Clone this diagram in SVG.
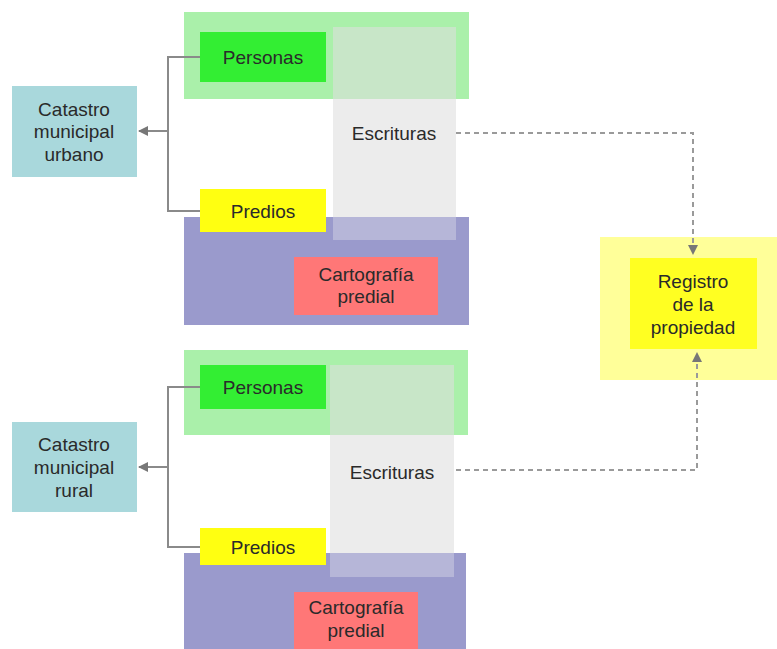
<svg xmlns="http://www.w3.org/2000/svg" width="777" height="649" viewBox="0 0 777 649">
<defs>
<style>
text{font-family:"Liberation Sans",Arial,sans-serif;font-size:19px;fill:#2a2a2a;text-anchor:middle}
.ln{fill:none;stroke:#8a8a8a;stroke-width:2}
.dl{fill:none;stroke:#9a9a9a;stroke-width:2;stroke-dasharray:5 4}
</style>
<marker id="ah" viewBox="0 0 10 10" refX="9" refY="5" markerWidth="5" markerHeight="5" orient="auto-start-reverse">
<path d="M0,0 L10,5 L0,10 z" fill="#777"/>
</marker>
</defs>
<rect width="777" height="649" fill="#fff"/>

<g id="bloque-urbano">
<rect x="184" y="12" width="285" height="87" fill="#aaf0aa"/>
<rect x="184" y="217" width="285" height="108" fill="#9a9acc"/>
<rect x="333" y="27" width="123" height="72" fill="#c8e6c8"/>
<rect x="333" y="99" width="123" height="118" fill="#ececec"/>
<rect x="333" y="217" width="123" height="23" fill="#b6b6d8"/>
</g>
<g id="personas-urbano"><rect x="200" y="32" width="126" height="50" fill="#33ee33"/><text x="263" y="64">Personas</text></g>
<g id="escrituras-urbano"><text x="394" y="140">Escrituras</text></g>
<g id="predios-urbano"><rect x="200" y="189" width="126" height="43" fill="#ffff11"/><text x="263" y="218">Predios</text></g>
<g id="cartografia-urbano"><rect x="294" y="257" width="144" height="58" fill="#ff7777"/><text x="366" y="281">Cartografía</text><text x="366" y="303">predial</text></g>
<g id="catastro-urbano"><rect x="12" y="86" width="125" height="91" fill="#a9d8dc"/><text x="74" y="116">Catastro</text><text x="74" y="138">municipal</text><text x="74" y="161">urbano</text></g>

<g id="bloque-rural">
<rect x="184" y="350" width="284" height="85" fill="#aaf0aa"/>
<rect x="184" y="553" width="282" height="96" fill="#9a9acc"/>
<rect x="330" y="365" width="124" height="70" fill="#c8e6c8"/>
<rect x="330" y="435" width="124" height="118" fill="#ececec"/>
<rect x="330" y="553" width="124" height="24" fill="#b6b6d8"/>
</g>
<g id="personas-rural"><rect x="200" y="365" width="126" height="44" fill="#33ee33"/><text x="263" y="394">Personas</text></g>
<g id="escrituras-rural"><text x="392" y="479">Escrituras</text></g>
<g id="predios-rural"><rect x="200" y="528" width="126" height="37" fill="#ffff11"/><text x="263" y="554">Predios</text></g>
<g id="cartografia-rural"><rect x="294" y="592" width="124" height="57" fill="#ff7777"/><text x="356" y="614">Cartografía</text><text x="356" y="637">predial</text></g>
<g id="catastro-rural"><rect x="12" y="422" width="125" height="90" fill="#a9d8dc"/><text x="74" y="451">Catastro</text><text x="74" y="474">municipal</text><text x="74" y="497">rural</text></g>

<g id="registro">
<rect x="600" y="237" width="177" height="143" fill="#ffff99"/>
<rect x="630" y="258" width="127" height="91" fill="#ffff22"/>
<text x="693" y="288">Registro</text><text x="693" y="311">de la</text><text x="693" y="334">propiedad</text>
</g>

<g id="conectores">
<path class="ln" d="M200,57 H168 V211 H200"/>
<path class="ln" d="M168,131 H139" marker-end="url(#ah)"/>
<path class="ln" d="M200,387 H168 V547 H200"/>
<path class="ln" d="M168,467 H139" marker-end="url(#ah)"/>
<path class="dl" d="M456,133 H693 V254" marker-end="url(#ah)"/>
<path class="dl" d="M456,470 H697 V353" marker-end="url(#ah)"/>
</g>
</svg>
